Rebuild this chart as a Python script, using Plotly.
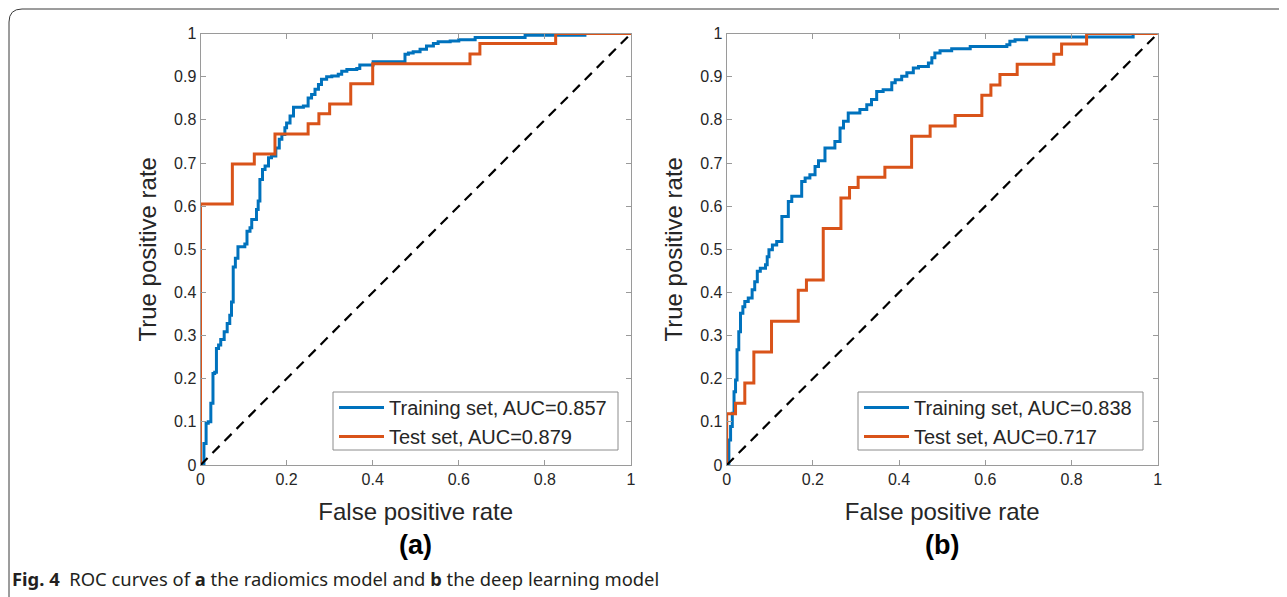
import plotly.graph_objects as go

# ---------------- data ----------------
a_train_fpr = [0, 0.008, 0.013, 0.018, 0.024, 0.029, 0.033, 0.037, 0.042, 0.047, 0.055, 0.062, 0.068, 0.072,
               0.076, 0.081, 0.087, 0.103, 0.108, 0.115, 0.119, 0.130, 0.134, 0.138, 0.144, 0.150, 0.158, 0.165,
               0.175, 0.183, 0.189, 0.196, 0.200, 0.208, 0.216, 0.239, 0.250, 0.258, 0.266, 0.274, 0.281, 0.293,
               0.305, 0.320, 0.328, 0.340, 0.363, 0.370, 0.401, 0.475, 0.483, 0.494, 0.510, 0.525, 0.541, 0.552,
               0.580, 0.600, 0.638, 0.754, 0.893, 1.0]
a_train_tpr = [0, 0.050, 0.097, 0.100, 0.143, 0.212, 0.215, 0.270, 0.278, 0.291, 0.309, 0.328, 0.347, 0.378,
               0.459, 0.479, 0.506, 0.512, 0.542, 0.550, 0.569, 0.592, 0.612, 0.662, 0.685, 0.693, 0.712, 0.716,
               0.735, 0.755, 0.766, 0.782, 0.793, 0.809, 0.829, 0.832, 0.851, 0.859, 0.871, 0.882, 0.894, 0.900,
               0.902, 0.906, 0.913, 0.917, 0.919, 0.927, 0.935, 0.952, 0.955, 0.958, 0.964, 0.971, 0.977, 0.981,
               0.983, 0.986, 0.991, 0.996, 1.0, 1.0]

a_test_fpr = [0, 0, 0.074, 0.125, 0.173, 0.250, 0.275, 0.300, 0.349, 0.400, 0.626, 0.649, 0.825, 1.0]
a_test_tpr = [0, 0.605, 0.698, 0.721, 0.767, 0.791, 0.814, 0.837, 0.884, 0.930, 0.953, 0.977, 1.0, 1.0]

b_train_fpr = [0, 0.005, 0.009, 0.013, 0.017, 0.0205, 0.024, 0.028, 0.032, 0.0375, 0.042, 0.050, 0.059, 0.065,
               0.071, 0.078, 0.090, 0.094, 0.098, 0.106, 0.116, 0.128, 0.143, 0.151, 0.174, 0.182, 0.193, 0.205,
               0.213, 0.228, 0.251, 0.263, 0.271, 0.282, 0.309, 0.325, 0.336, 0.348, 0.363, 0.383, 0.391, 0.406,
               0.418, 0.433, 0.445, 0.468, 0.476, 0.483, 0.495, 0.522, 0.565, 0.650, 0.657, 0.669, 0.696, 0.943, 1.0]
b_train_tpr = [0, 0.058, 0.089, 0.120, 0.170, 0.197, 0.267, 0.309, 0.352, 0.367, 0.379, 0.387, 0.406, 0.425,
               0.449, 0.456, 0.464, 0.483, 0.499, 0.510, 0.518, 0.576, 0.611, 0.623, 0.657, 0.665, 0.673, 0.692,
               0.705, 0.735, 0.750, 0.781, 0.797, 0.816, 0.824, 0.835, 0.847, 0.866, 0.870, 0.886, 0.893, 0.901,
               0.909, 0.920, 0.924, 0.932, 0.944, 0.955, 0.960, 0.965, 0.970, 0.974, 0.982, 0.986, 0.992, 1.0, 1.0]

b_test_fpr = [0, 0, 0.0205, 0.042, 0.063, 0.104, 0.166, 0.185, 0.224, 0.265, 0.285, 0.305, 0.367, 0.429,
              0.472, 0.530, 0.592, 0.613, 0.634, 0.674, 0.759, 0.777, 0.835, 1.0]
b_test_tpr = [0, 0.119, 0.143, 0.190, 0.262, 0.333, 0.405, 0.429, 0.548, 0.619, 0.643, 0.667, 0.690, 0.762,
              0.786, 0.810, 0.857, 0.881, 0.905, 0.929, 0.952, 0.976, 1.0, 1.0]

chance_line = [0, 1]

a_labels = ["Training set, AUC=0.857", "Test set, AUC=0.879"]
b_labels = ["Training set, AUC=0.838", "Test set, AUC=0.717"]

tick_vals_x = [0, 0.2, 0.4, 0.6, 0.8, 1]
tick_text_x = ["0", "0.2", "0.4", "0.6", "0.8", "1"]
tick_vals_y = [0, 0.1, 0.2, 0.3, 0.4, 0.5, 0.6, 0.7, 0.8, 0.9, 1]
tick_text_y = ["0", "0.1", "0.2", "0.3", "0.4", "0.5", "0.6", "0.7", "0.8", "0.9", "1"]

# ---------------- styling ----------------
W, H = 1287, 597
OFF = 8  # page body margin: figure pixel = screen pixel - OFF
BLUE = "#0072BD"
ORANGE = "#D95319"
AX = "#9a9a9a"
TXT = "#262626"
FONT = "Liberation Sans, Arial, sans-serif"


def px(x):
    return (x - OFF) / W


def py(y):
    return 1 - (y - OFF) / H


fig = go.Figure()

# panel (a)
fig.add_trace(go.Scatter(x=a_train_fpr, y=a_train_tpr, mode="lines", line=dict(color=BLUE, width=3, shape="hv"),
                         name=a_labels[0], xaxis="x", yaxis="y", legend="legend"))
fig.add_trace(go.Scatter(x=a_test_fpr, y=a_test_tpr, mode="lines", line=dict(color=ORANGE, width=3, shape="hv"),
                         name=a_labels[1], xaxis="x", yaxis="y", legend="legend"))
fig.add_trace(go.Scatter(x=chance_line, y=chance_line, mode="lines",
                         line=dict(color="black", width=2.2, dash="10px,7px"),
                         showlegend=False, xaxis="x", yaxis="y"))
# panel (b)
fig.add_trace(go.Scatter(x=b_train_fpr, y=b_train_tpr, mode="lines", line=dict(color=BLUE, width=3, shape="hv"),
                         name=b_labels[0], xaxis="x2", yaxis="y2", legend="legend2"))
fig.add_trace(go.Scatter(x=b_test_fpr, y=b_test_tpr, mode="lines", line=dict(color=ORANGE, width=3, shape="hv"),
                         name=b_labels[1], xaxis="x2", yaxis="y2", legend="legend2"))
fig.add_trace(go.Scatter(x=chance_line, y=chance_line, mode="lines",
                         line=dict(color="black", width=2.2, dash="10px,7px"),
                         showlegend=False, xaxis="x2", yaxis="y2"))

ydom = [py(465), py(33.6)]
common_x = dict(range=[0, 1], tickvals=tick_vals_x, ticktext=tick_text_x, ticks="inside", ticklen=5,
                tickcolor=AX, showline=True, linecolor=AX, linewidth=1, mirror="ticks", showgrid=False,
                zeroline=False, automargin=False, tickfont=dict(family=FONT, size=16, color=TXT),
                title=dict(text="False positive rate", font=dict(family=FONT, size=24, color=TXT), standoff=15))
common_y = dict(range=[0, 1], tickvals=tick_vals_y, ticktext=tick_text_y, ticks="inside", ticklen=5,
                tickcolor=AX, showline=True, linecolor=AX, linewidth=1, mirror="ticks", showgrid=False,
                zeroline=False, automargin=False, tickfont=dict(family=FONT, size=16, color=TXT),
                title=dict(text="True positive rate", font=dict(family=FONT, size=24, color=TXT), standoff=10))

legend_common = dict(bgcolor="rgba(0,0,0,0)", borderwidth=0, itemwidth=45,
                     font=dict(family=FONT, size=20, color=TXT), xanchor="left", yanchor="top",
                     tracegroupgap=0, itemclick=False, itemdoubleclick=False)

fig.update_layout(
    width=W, height=H, margin=dict(l=0, r=0, t=0, b=0),
    paper_bgcolor="white", plot_bgcolor="white",
    xaxis=dict(domain=[px(200.5), px(631)], anchor="y", **common_x),
    yaxis=dict(domain=ydom, anchor="x", **common_y),
    xaxis2=dict(domain=[px(726.7), px(1157.7)], anchor="y2", **common_x),
    yaxis2=dict(domain=ydom, anchor="x2", **common_y),
    legend=dict(x=px(334), y=py(388), **legend_common),
    legend2=dict(x=px(859), y=py(388), **legend_common),
    showlegend=True,
)

# legend frames (white boxes behind the legend entries)
for x0, x1 in [(333, 618), (858, 1143)]:
    fig.add_shape(type="rect", xref="paper", yref="paper", x0=px(x0), x1=px(x1), y0=py(450), y1=py(392),
                  line=dict(color="#8c8c8c", width=1), fillcolor="white", layer="above")

# panel labels
for cx, lab in [((200.5 + 631) / 2, "(a)"), ((726.7 + 1157.7) / 2, "(b)")]:
    fig.add_annotation(x=px(cx), y=py(545), xref="paper", yref="paper", text=f"<b>{lab}</b>", showarrow=False,
                       font=dict(family=FONT, size=27, color="black"), xanchor="center", yanchor="middle")

# caption
fig.add_annotation(x=px(10), y=py(578), xref="paper", yref="paper",
                   text="<b>Fig. 4</b>  ROC curves of <b>a</b> the radiomics model and <b>b</b> the deep learning model",
                   showarrow=False, font=dict(family="Noto Sans, sans-serif", size=18.4, color="#231f20"),
                   xanchor="left", yanchor="middle")

# figure frame (rounded top-left corner)
path = (f"M {px(9)},{py(610)} L {px(9)},{py(22)} Q {px(9)},{py(9)} {px(22)},{py(9)} L {px(1300)},{py(9)}")
fig.add_shape(type="path", path=path, xref="paper", yref="paper", line=dict(color="#3a3a3a", width=1))

fig.write_html("out.html")
